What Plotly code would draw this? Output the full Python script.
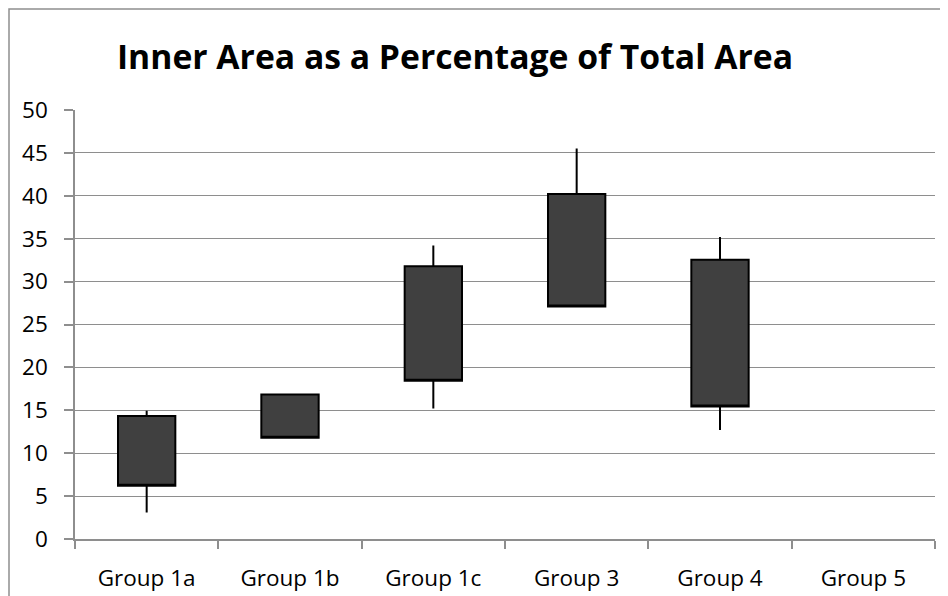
import plotly.graph_objects as go

categories = ["Group 1a", "Group 1b", "Group 1c", "Group 3", "Group 4", "Group 5"]
data_groups = ["Group 1a", "Group 1b", "Group 1c", "Group 3", "Group 4"]
low = [3.1, 11.75, 15.2, 27.0, 12.7]
box_low = [6.2, 11.8, 18.45, 27.1, 15.45]
box_high = [14.35, 16.85, 31.8, 40.2, 32.55]
high = [14.95, 16.95, 34.2, 45.5, 35.2]
title_text = "Inner Area as a Percentage of Total Area"
y_ticks = [0, 5, 10, 15, 20, 25, 30, 35, 40, 45, 50]

# page body has an 8px margin, so the figure is 8px smaller
W, H = 940, 588
ml, mr, mt, mb = 67, 13, 102, 57
pw, ph = W - ml - mr, H - mt - mb

fig = go.Figure()
fig.add_trace(go.Box(
    x=data_groups,
    q1=box_low,
    median=box_low,
    q3=box_high,
    lowerfence=low,
    upperfence=high,
    boxpoints=False,
    whiskerwidth=0,
    width=0.4,
    fillcolor="#404040",
    line=dict(color="#000000", width=2),
    hoverinfo="skip",
    showlegend=False,
))

grid_col = "#8e8e8e"
fig.update_layout(
    width=W, height=H,
    margin=dict(l=ml, r=mr, t=mt, b=mb, autoexpand=False),
    paper_bgcolor="white",
    plot_bgcolor="white",
    font=dict(family="Open Sans, sans-serif", color="#000000"),
    title=dict(
        text="<b>" + title_text + "</b>",
        font=dict(size=33.7, family="Open Sans, sans-serif", color="#000000"),
        x=447 / W, xref="container", xanchor="center",
        y=1 - 49 / H, yref="container", yanchor="middle",
    ),
    xaxis=dict(
        type="category",
        categoryorder="array",
        categoryarray=categories,
        range=[-0.5, len(categories) - 0.5],
        tickson="boundaries",
        ticks="outside",
        ticklen=8,
        tickwidth=1.5,
        tickcolor=grid_col,
        showline=True,
        linecolor=grid_col,
        linewidth=1.5,
        showgrid=False,
        tickfont=dict(size=22.5),
        ticklabelstandoff=18,
        fixedrange=True,
    ),
    yaxis=dict(
        range=[0, 50],
        tickvals=y_ticks,
        ticks="outside",
        ticklen=9,
        tickwidth=1.5,
        tickcolor=grid_col,
        showline=True,
        linecolor=grid_col,
        linewidth=1.5,
        showgrid=True,
        gridcolor=grid_col,
        gridwidth=1.3,
        zeroline=False,
        tickfont=dict(size=22.5),
        ticklabelstandoff=12,
        fixedrange=True,
    ),
    shapes=[dict(
        type="rect", xref="paper", yref="paper",
        x0=(1 - ml) / pw, x1=(W + 10 - ml) / pw,
        y0=1 - (H + 10 - mt) / ph, y1=1 - (1 - mt) / ph,
        line=dict(color="#8e8e8e", width=1.5),
        fillcolor="rgba(0,0,0,0)", layer="below",
    )],
)

fig.write_html("out.html")
